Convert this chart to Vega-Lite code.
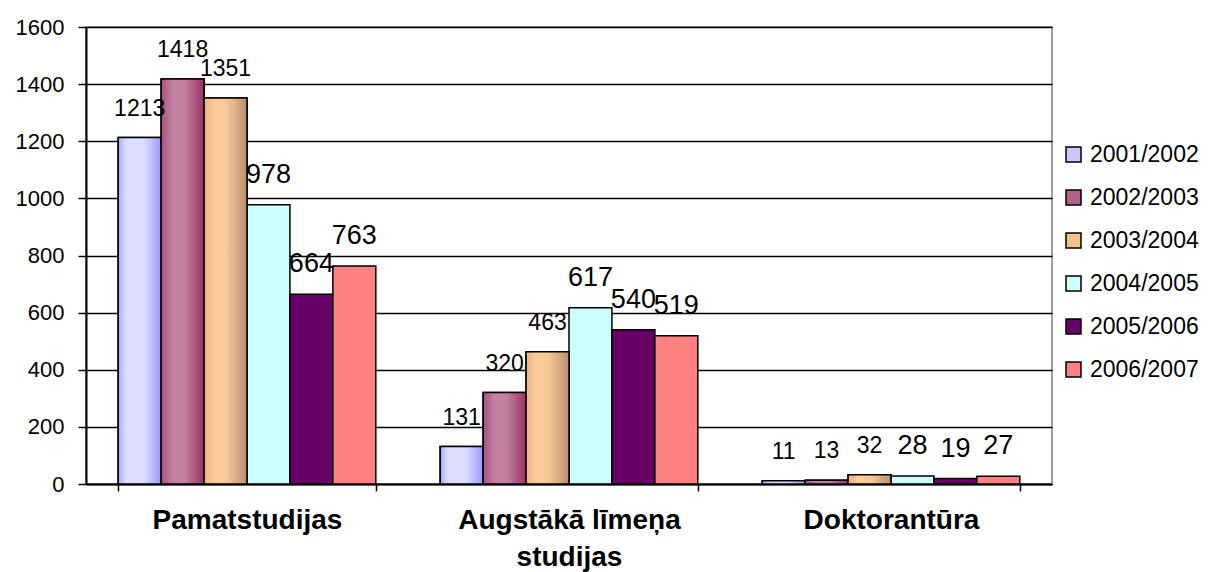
{
  "$schema": "https://vega.github.io/schema/vega-lite/v6.json",
  "width": 966,
  "height": 457,
  "autosize": {"type": "none"},
  "padding": {"left": 86, "top": 27, "right": 159, "bottom": 88},
  "background": "white",
  "config": {
    "view": {"stroke": "#808080", "strokeWidth": 1.5},
    "font": "Liberation Sans"
  },
  "data": {
    "values": [
      {"category": "Pamatstudijas", "year": "2001/2002", "value": 1213},
      {"category": "Pamatstudijas", "year": "2002/2003", "value": 1418},
      {"category": "Pamatstudijas", "year": "2003/2004", "value": 1351},
      {"category": "Pamatstudijas", "year": "2004/2005", "value": 978},
      {"category": "Pamatstudijas", "year": "2005/2006", "value": 664},
      {"category": "Pamatstudijas", "year": "2006/2007", "value": 763},
      {"category": "Augstākā līmeņa studijas", "year": "2001/2002", "value": 131},
      {"category": "Augstākā līmeņa studijas", "year": "2002/2003", "value": 320},
      {"category": "Augstākā līmeņa studijas", "year": "2003/2004", "value": 463},
      {"category": "Augstākā līmeņa studijas", "year": "2004/2005", "value": 617},
      {"category": "Augstākā līmeņa studijas", "year": "2005/2006", "value": 540},
      {"category": "Augstākā līmeņa studijas", "year": "2006/2007", "value": 519},
      {"category": "Doktorantūra", "year": "2001/2002", "value": 11},
      {"category": "Doktorantūra", "year": "2002/2003", "value": 13},
      {"category": "Doktorantūra", "year": "2003/2004", "value": 32},
      {"category": "Doktorantūra", "year": "2004/2005", "value": 28},
      {"category": "Doktorantūra", "year": "2005/2006", "value": 19},
      {"category": "Doktorantūra", "year": "2006/2007", "value": 27}
    ]
  },
  "encoding": {
    "x": {
      "field": "category",
      "type": "nominal",
      "title": null,
      "scale": {"domain": ["Pamatstudijas", "Augstākā līmeņa studijas", "Doktorantūra"], "paddingInner": 0.2, "paddingOuter": 0.1},
      "axis": {
        "labelAngle": 0,
        "labelFontSize": 28,
        "labelFontWeight": "bold",
        "labelColor": "black",
        "labelFont": "Liberation Sans",
        "labelBaseline": "top",
        "labelPadding": 15,
        "labelLimit": 400,
        "labelLineHeight": 37,
        "labelExpr": "datum.label == 'Augstākā līmeņa studijas' ? ['Augstākā līmeņa', 'studijas'] : datum.label",
        "tickBand": "extent",
        "tickSize": 7,
        "tickWidth": 1.5,
        "tickColor": "black",
        "domainColor": "black",
        "domainWidth": 2
      }
    },
    "xOffset": {
      "field": "year",
      "type": "nominal",
      "scale": {"domain": ["2001/2002", "2002/2003", "2003/2004", "2004/2005", "2005/2006", "2006/2007"], "paddingInner": 0, "paddingOuter": 0}
    },
    "y": {
      "field": "value",
      "type": "quantitative",
      "title": null,
      "scale": {"domain": [0, 1600], "nice": false},
      "axis": {
        "values": [0, 200, 400, 600, 800, 1000, 1200, 1400, 1600],
        "format": "d",
        "grid": true,
        "gridColor": "black",
        "gridWidth": 1.3,
        "gridOpacity": 1,
        "domainColor": "black",
        "domainWidth": 2,
        "tickColor": "black",
        "tickSize": 8,
        "tickWidth": 1.5,
        "labelFontSize": 22,
        "labelColor": "black",
        "labelFont": "Liberation Sans",
        "labelPadding": 14
      }
    }
  },
  "layer": [
    {
      "mark": {"type": "bar", "stroke": "black", "strokeWidth": 1.5},
      "encoding": {
        "color": {
          "field": "year",
          "type": "nominal",
          "scale": {
            "domain": ["2001/2002", "2002/2003", "2003/2004", "2004/2005", "2005/2006", "2006/2007"],
            "range": ["#C8C8FF", "#B0628A", "#F2C28F", "#CCFFFF", "#660066", "#FF8080"]
          },
          "legend": {
            "title": null,
            "orient": "none",
            "legendX": 976,
            "legendY": 116,
            "symbolType": "square",
            "symbolSize": 225,
            "symbolStrokeColor": "black",
            "symbolStrokeWidth": 1.5,
            "symbolOpacity": 1,
            "labelFontSize": 23,
            "labelColor": "black",
            "labelFont": "Liberation Sans",
            "labelOffset": 5,
            "rowPadding": 19
          }
        }
      }
    },
    {
      "transform": [{"filter": "datum.year == '2001/2002'"}],
      "mark": {
        "type": "bar",
        "stroke": "black",
        "strokeWidth": 1.5,
        "fill": {"gradient": "linear", "x1": 0, "y1": 0, "x2": 1, "y2": 0,
          "stops": [{"offset": 0, "color": "#A8A8FF"}, {"offset": 0.18, "color": "#DCDCFF"}, {"offset": 0.6, "color": "#DCDCFF"}, {"offset": 1, "color": "#9999FF"}]}
      },
      "encoding": {}
    },
    {
      "transform": [{"filter": "datum.year == '2002/2003'"}],
      "mark": {
        "type": "bar",
        "stroke": "black",
        "strokeWidth": 1.5,
        "fill": {"gradient": "linear", "x1": 0, "y1": 0, "x2": 1, "y2": 0,
          "stops": [{"offset": 0, "color": "#A8507F"}, {"offset": 0.25, "color": "#C080A0"}, {"offset": 0.55, "color": "#C080A0"}, {"offset": 1, "color": "#993366"}]}
      },
      "encoding": {}
    },
    {
      "transform": [{"filter": "datum.year == '2003/2004'"}],
      "mark": {
        "type": "bar",
        "stroke": "black",
        "strokeWidth": 1.5,
        "fill": {"gradient": "linear", "x1": 0, "y1": 0, "x2": 1, "y2": 0,
          "stops": [{"offset": 0, "color": "#E4B486"}, {"offset": 0.22, "color": "#FACB98"}, {"offset": 0.5, "color": "#FACB98"}, {"offset": 1, "color": "#B89070"}]}
      },
      "encoding": {}
    },
    {
      "mark": {"type": "text", "baseline": "alphabetic", "dy": -22, "color": "black", "font": "Liberation Sans"},
      "encoding": {
        "text": {"field": "value", "type": "quantitative"},
        "size": {
          "condition": {"test": "datum.year == '2001/2002' || datum.year == '2002/2003' || datum.year == '2003/2004'", "value": 23},
          "value": 27
        }
      }
    }
  ]
}
